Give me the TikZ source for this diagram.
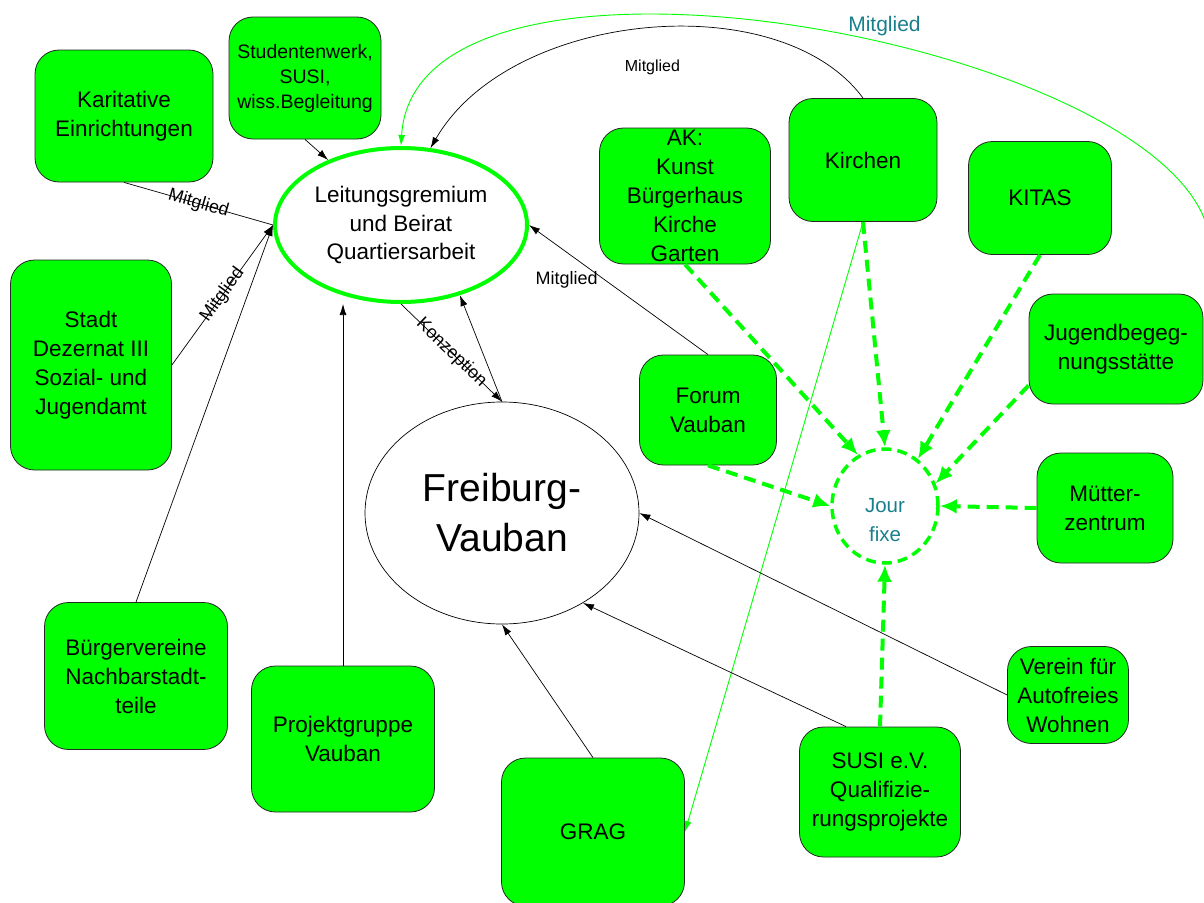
\documentclass[tikz,border=0pt]{standalone}
\usepackage{fontspec}
\setmainfont{Liberation Sans}
\usetikzlibrary{arrows.meta,shapes.geometric}
\definecolor{boxgreen}{RGB}{0,255,0}
\definecolor{jourteal}{RGB}{24,128,140}
\tikzset{
  gbox/.style={draw=black!85, line width=0.8pt, fill=boxgreen, rounded corners=24pt,
    align=center, inner sep=0pt, font=\fontsize{22.5}{29}\selectfont},
  conn/.style={draw=black, line width=0.7pt, -{Latex[length=11pt,width=7pt]}},
  plainconn/.style={draw=black, line width=0.7pt},
  greenconn/.style={draw=boxgreen, line width=0.9pt, -{Latex[length=11pt,width=7pt]}},
  jourarrow/.style={draw=boxgreen, line width=4pt, dash pattern=on 12pt off 7pt,
    -{Latex[length=17pt,width=15pt]}},
  lbl/.style={font=\fontsize{18}{20}\selectfont, inner sep=1pt},
}
\begin{document}
\begin{tikzpicture}[x=1pt,y=-1pt]
  \useasboundingbox (0,0) rectangle (1204,902);
  \clip (0,0) rectangle (1204,902);

  \node[gbox, minimum width=178pt, minimum height=132pt] (karitativ) at (124,116) {Karitative\\Einrichtungen};
  \node[gbox, minimum width=152pt, minimum height=122pt, font=\fontsize{19.5}{25}\selectfont] (studwerk) at (305,78) {Studentenwerk,\\SUSI,\\wiss.Begleitung};
  \node[gbox, minimum width=161pt, minimum height=210pt] (stadt) at (91,365) {Stadt\\Dezernat III\\Sozial- und\\Jugendamt};
  \node[gbox, minimum width=183pt, minimum height=147pt] (buerger) at (136,676) {B\"urgervereine\\Nachbarstadt-\\teile};
  \node[gbox, minimum width=183pt, minimum height=146pt] (projekt) at (343,739) {Projektgruppe\\Vauban};
  \node[gbox, minimum width=171pt, minimum height=136pt] (ak) at (685,196) {AK:\\Kunst\\B\"urgerhaus\\Kirche\\Garten};
  \node[gbox, minimum width=148pt, minimum height=123pt] (kirchen) at (863,160) {Kirchen};
  \node[gbox, minimum width=143pt, minimum height=113pt] (kitas) at (1040,198) {KITAS};
  \node[gbox, minimum width=174pt, minimum height=110pt] (jugend) at (1116,349) {Jugendbegeg-\\nungsst\"atte};
  \node[gbox, minimum width=137pt, minimum height=110pt] (forum) at (708,410) {Forum\\Vauban};
  \node[gbox, minimum width=136pt, minimum height=110pt] (muetter) at (1105,508) {M\"utter-\\zentrum};
  \node[gbox, minimum width=121pt, minimum height=97pt] (verein) at (1068,695) {Verein f\"ur\\Autofreies\\Wohnen};
  \node[gbox, minimum width=161pt, minimum height=130pt] (susi) at (880,792) {SUSI e.V.\\Qualifizie-\\rungsprojekte};
  \node[gbox, minimum width=183pt, minimum height=148pt] (grag) at (593,832) {GRAG};

  \node[ellipse, draw=boxgreen, line width=4pt, minimum width=252pt, minimum height=154pt, inner sep=0pt,
    align=center, font=\fontsize{22.5}{28.5}\selectfont] (leitung) at (401,225) {Leitungsgremium\\und Beirat\\Quartiersarbeit};
  \node[ellipse, draw=black, line width=0.7pt, minimum width=274pt, minimum height=222pt, inner sep=0pt,
    align=center, font=\fontsize{39}{50}\selectfont] (freiburg) at (502,513) {Freiburg-\\Vauban};
  \node[ellipse, draw=boxgreen, line width=3.5pt, dash pattern=on 10pt off 6pt, minimum width=106pt, minimum height=114pt,
    label={[font=\fontsize{20.5}{29}\selectfont, text=jourteal, align=center, yshift=-14pt]center:Jour\\fixe}] (jour) at (885,506) {};
  \coordinate (mitglend) at (1208,230);

  \draw[plainconn] (karitativ.south) -- node[lbl, sloped] {Mitglied} (leitung.west);
  \draw[conn] (studwerk.south) -- (leitung);
  \draw[conn] (stadt.east) -- node[lbl, sloped] {Mitglied} (leitung.west);
  \draw[conn] (buerger.north) -- (leitung.west);
  \draw[conn] (projekt.north) -- (projekt.north |- leitung.south);
  \draw[conn] (leitung.south) -- node[lbl, sloped] {Konzeption} (freiburg.north);
  \draw[conn] (freiburg.north) -- (leitung.-50);
  \draw[conn] (forum.north) -- node[lbl, pos=0.79, below=18pt] {Mitglied} (leitung.east);
  \draw[conn] (kirchen.north) .. controls (780,-15) and (510,10) ..
    node[pos=0.5, below=30pt, xshift=7pt, font=\fontsize{16}{18}\selectfont, inner sep=1pt] {Mitglied} (leitung.69);
  \draw[greenconn] (mitglend) .. controls (1160,40) and (415,-95) ..
    node[pos=0.42, above=6pt, font=\fontsize{21}{24}\selectfont, text=jourteal, inner sep=1pt] {Mitglied} (leitung.north);
  \draw[greenconn] (kirchen.south) -- (grag.east);

  \draw[conn] (grag.north) -- (freiburg.south);
  \draw[conn] ([xshift=-34pt]susi.north) -- (freiburg.-48);
  \draw[conn] (verein.west) -- (freiburg.east);

  \draw[jourarrow] (ak.south) -- (jour.118);
  \draw[jourarrow] (kirchen.south) -- (jour.north);
  \draw[jourarrow] (kitas.south) -- (jour.55);
  \draw[jourarrow] ([yshift=19pt]jugend.south west) -- (jour.24);
  \draw[jourarrow] (muetter.west) -- (jour.east);
  \draw[jourarrow] (forum.south) -- (jour.west);
  \draw[jourarrow] (susi.north) -- (jour.south);
\end{tikzpicture}
\end{document}
